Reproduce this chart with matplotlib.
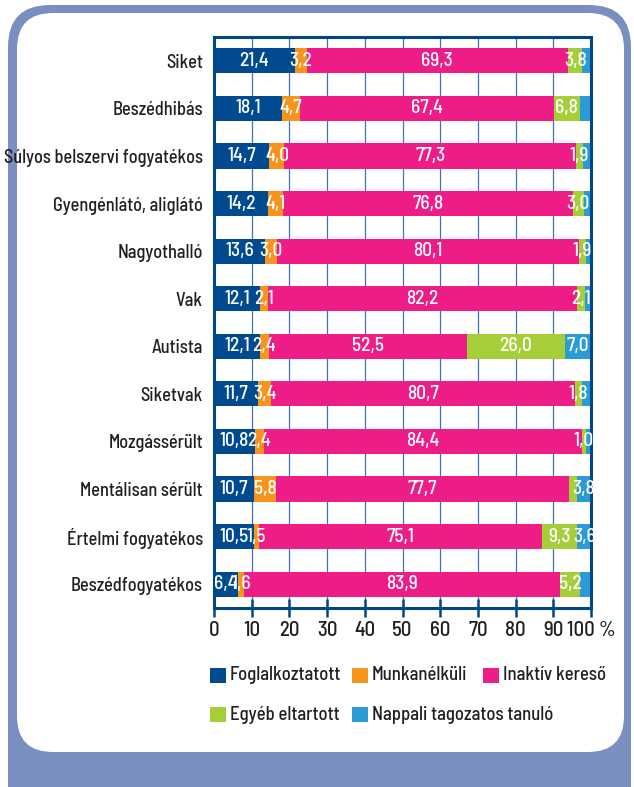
import matplotlib
matplotlib.use("Agg")
import matplotlib.pyplot as plt
from matplotlib.patches import FancyBboxPatch, Rectangle
import numpy as np

plt.rcParams['font.family'] = ['Barlow Semi Condensed', 'DejaVu Sans']
plt.rcParams['font.weight'] = 500

# Data (percent)
categories = ["Siket", "Beszédhibás", "Súlyos belszervi fogyatékos",
              "Gyengénlátó, aligláto", "Nagyothalló", "Vak", "Autista",
              "Siketvak", "Mozgássérült", "Mentálisan sérült",
              "Értelmi fogyatékos", "Beszédfogyatékos"]
categories[3] = "Gyengénlátó, aligláto"[:-1] + "ó"

foglalkoztatott = [21.4, 18.1, 14.7, 14.2, 13.6, 12.1, 12.1, 11.7, 10.8, 10.7, 10.5, 6.4]
munkanelkuli = [3.2, 4.7, 4.0, 4.1, 3.0, 2.1, 2.4, 3.4, 2.4, 5.8, 1.5, 1.6]
inaktiv = [69.3, 67.4, 77.3, 76.8, 80.1, 82.2, 52.5, 80.7, 84.4, 77.7, 75.1, 83.9]
egyeb = [3.8, 6.8, 1.9, 3.0, 1.9, 2.1, 26.0, 1.8, 1.0, 2.0, 9.3, 5.2]
tanulo = [2.3, 3.0, 2.1, 1.9, 1.4, 1.5, 7.0, 2.4, 1.4, 3.8, 3.6, 2.9]
# which values carry a printed label
egyeb_labeled = [True] * 9 + [False, True, True]
tanulo_labeled = [False, False, False, False, False, False, True, False, False, True, True, False]

series = ["Foglalkoztatott", "Munkanélküli", "Inaktív kereső",
          "Egyéb eltartott", "Nappali tagozatos tanuló"]
values = [foglalkoztatott, munkanelkuli, inaktiv, egyeb, tanulo]
show = [[True] * 12, [True] * 12, [True] * 12, egyeb_labeled, tanulo_labeled]
colors = ["#004a8f", "#f7941d", "#ed1c87", "#a6ce39", "#2a9bd5"]
xtick_labels = ["0", "10", "20", "30", "40", "50", "60", "70", "80", "90", "100 %"]

navy = "#00468b"
frame_col = "#7a8ec0"
text_col = "#231f20"

fig = plt.figure(figsize=(6.34, 7.87), dpi=100)

# background frame in pixel coordinates
bg = fig.add_axes([0, 0, 1, 1], zorder=-1)
bg.set_xlim(0, 634)
bg.set_ylim(787, 0)
bg.axis("off")
bg.add_patch(FancyBboxPatch((8, 5), 623, 830, boxstyle="round,pad=0,rounding_size=42",
                            fc=frame_col, ec="none"))
bg.add_patch(FancyBboxPatch((17, 13), 607, 739, boxstyle="round,pad=0,rounding_size=36",
                            fc="white", ec="none"))

ax = fig.add_axes([214 / 634, 1 - 608 / 787, (591 - 214) / 634, (608 - 37) / 787])
y = np.arange(len(categories))
left = np.zeros(len(categories))
for i, (vals, col) in enumerate(zip(values, colors)):
    vals = np.array(vals)
    ax.barh(y, vals, left=left, height=0.53, color=col, zorder=2)
    for j, v in enumerate(vals):
        if not show[i][j]:
            continue
        ax.text(left[j] + v / 2, y[j], f"{v:.1f}".replace(".", ","),
                ha="center", va="center", color="white", fontsize=14, zorder=3)
    left += vals

ax.set_xlim(0, 100)
ax.set_ylim(len(categories) - 0.5, -0.5)
ax.set_yticks(y)
ax.set_yticklabels(categories, fontsize=13.2, color=text_col)
ax.set_xticks(np.arange(0, 101, 10))
ax.set_xticklabels(xtick_labels, fontsize=15, color=text_col)
ax.tick_params(axis="y", length=0, pad=8)
ax.tick_params(axis="x", direction="inout", length=13, width=1.8, color=navy, pad=3)
ax.grid(axis="x", color="#3a72b8", lw=0.9)
ax.set_axisbelow(True)
for s in ax.spines.values():
    s.set_color(navy)
    s.set_linewidth(2.2)

# legend: two rows, drawn in pixel space
legend_pos = [(210, 668), (352, 668), (483, 668), (210, 707), (352, 707)]
for (lx, ly), name, col in zip(legend_pos, series, colors):
    bg.add_patch(Rectangle((lx, ly), 16, 15, fc=col, ec="none"))
    bg.text(lx + 20, ly + 7.5, name, ha="left", va="center", fontsize=13.5, color=text_col)

fig.savefig("out.png", dpi=100)
